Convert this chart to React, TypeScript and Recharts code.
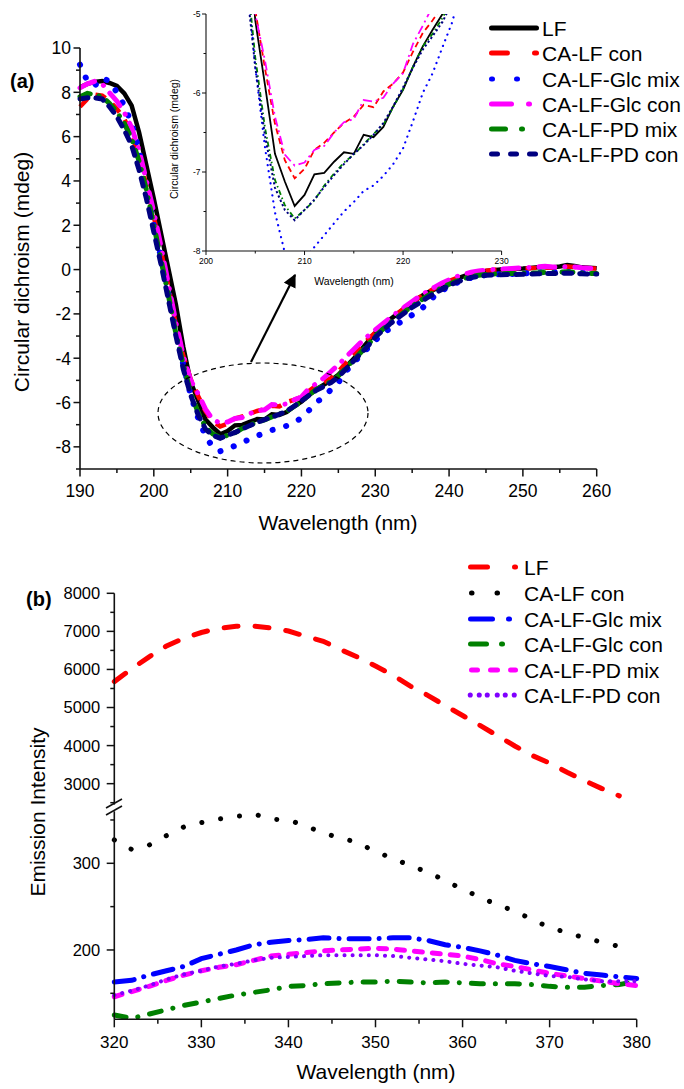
import React from 'react';
import { LineChart, Line, XAxis, YAxis } from 'recharts';

const FONT = '"Liberation Sans", Arial, Helvetica, sans-serif';
const AXIS = '#111';

// (a) circular dichroism, 190-260 nm
const cdWavelength = [
  190, 191, 192, 193, 194, 195, 196, 197, 198, 199, 200, 201, 202, 203, 204, 205, 206, 207,
  208, 209, 210, 211, 212, 213, 214, 215, 216, 217, 218, 219, 220, 221, 222, 223, 224, 225,
  226, 227, 228, 229, 230, 231, 232, 233, 234, 235, 236, 237, 238, 239, 240, 241, 242, 243,
  244, 245, 246, 247, 248, 249, 250, 251, 252, 253, 254, 255, 256, 257, 258, 259, 260,
];
const cdLF = [
  8.23, 8.38, 8.47, 8.51, 8.42, 8.29, 7.95, 7.4, 6.2, 4.7, 3.2, 1.6, 0.0, -1.6, -3.5, -5.08, -5.91, -6.77,
  -7.12, -7.43, -7.29, -7.03, -7.01, -6.87, -6.75, -6.77, -6.53, -6.56, -6.43, -6.17, -5.96, -5.67, -5.41, -5.2, -5.0, -4.75,
  -4.4, -4.05, -3.65, -3.25, -2.85, -2.55, -2.25, -2.0, -1.75, -1.5, -1.25, -1.05, -0.9, -0.75, -0.58, -0.42, -0.3, -0.2,
  -0.12, -0.06, -0.03, 0.0, 0.02, 0.04, 0.05, 0.07, 0.1, 0.12, 0.1, 0.14, 0.2, 0.16, 0.1, 0.08, 0.06,
];
const cdCaLfCon = [
  7.35, 7.7, 7.9, 7.85, 7.6, 7.25, 6.8, 6.1, 5.1, 3.8, 2.4, 0.8, -0.8, -2.5, -3.9, -4.95, -5.7, -6.39,
  -6.85, -7.08, -6.96, -6.72, -6.63, -6.5, -6.38, -6.3, -6.15, -6.18, -5.98, -5.88, -5.74, -5.48, -5.24, -5.08, -4.9, -4.6,
  -4.22, -3.85, -3.5, -3.15, -2.85, -2.55, -2.25, -1.98, -1.72, -1.48, -1.25, -1.05, -0.85, -0.7, -0.52, -0.38, -0.26, -0.17,
  -0.1, -0.05, -0.02, 0.0, 0.02, 0.03, 0.05, 0.06, 0.08, 0.1, 0.08, 0.1, 0.14, 0.12, 0.08, 0.06, 0.05,
];
const cdGlcMix = [
  9.25, 8.5, 8.3, 8.65, 8.5, 8.0, 7.4, 6.6, 5.4, 3.7, 2.0, 0.5, -1.1, -2.8, -4.3, -5.67, -6.7, -7.51,
  -8.02, -8.2, -8.1, -7.95, -7.8, -7.65, -7.5, -7.38, -7.24, -7.17, -7.05, -6.9, -6.7, -6.36, -6.0, -5.75, -5.42, -5.1,
  -4.6, -4.25, -3.85, -3.55, -3.2, -2.9, -2.65, -2.45, -2.27, -2.05, -1.85, -1.55, -1.2, -0.95, -0.77, -0.6, -0.47, -0.37,
  -0.3, -0.25, -0.22, -0.2, -0.2, -0.19, -0.17, -0.16, -0.14, -0.12, -0.13, -0.11, -0.1, -0.12, -0.14, -0.15, -0.15,
];
const cdGlcCon = [
  8.2, 8.38, 8.5, 8.38, 7.98, 7.6, 7.1, 6.4, 5.4, 4.0, 2.6, 1.0, -0.7, -2.4, -3.9, -5.0, -5.6, -6.3,
  -6.78, -6.92, -6.88, -6.72, -6.67, -6.5, -6.37, -6.33, -6.09, -6.11, -6.06, -5.88, -5.75, -5.38, -5.15, -4.9, -4.6, -4.3,
  -3.95, -3.63, -3.3, -3.0, -2.72, -2.45, -2.18, -1.92, -1.68, -1.44, -1.2, -1.0, -0.8, -0.62, -0.46, -0.32, -0.22, -0.12,
  -0.06, -0.02, 0.0, 0.02, 0.04, 0.06, 0.08, 0.1, 0.12, 0.15, 0.12, 0.1, 0.14, 0.12, 0.08, 0.06, 0.05,
];
const cdPdMix = [
  7.8, 7.95, 7.9, 7.8, 7.5, 7.1, 6.6, 5.9, 4.9, 3.6, 2.0, 0.4, -1.2, -2.9, -4.3, -5.55, -6.45, -7.1,
  -7.42, -7.59, -7.48, -7.36, -7.17, -7.02, -6.88, -6.78, -6.65, -6.52, -6.4, -6.18, -5.95, -5.67, -5.41, -5.25, -5.05, -4.8,
  -4.45, -4.1, -3.75, -3.4, -3.0, -2.7, -2.4, -2.15, -1.9, -1.65, -1.43, -1.2, -1.0, -0.82, -0.66, -0.52, -0.4, -0.32,
  -0.26, -0.22, -0.2, -0.19, -0.18, -0.18, -0.17, -0.16, -0.15, -0.13, -0.14, -0.12, -0.1, -0.12, -0.15, -0.17, -0.18,
];
const cdPdCon = [
  7.7, 7.75, 7.75, 7.7, 7.35, 6.9, 6.3, 5.6, 4.5, 3.2, 1.7, 0.2, -1.4, -3.0, -4.5, -5.67, -6.55, -7.2,
  -7.48, -7.61, -7.48, -7.35, -7.19, -7.04, -6.9, -6.77, -6.66, -6.53, -6.38, -6.17, -5.93, -5.68, -5.45, -5.28, -5.1, -4.85,
  -4.5, -4.15, -3.8, -3.45, -3.05, -2.75, -2.45, -2.2, -1.95, -1.7, -1.5, -1.28, -1.08, -0.9, -0.72, -0.57, -0.45, -0.36,
  -0.3, -0.26, -0.24, -0.23, -0.22, -0.22, -0.21, -0.2, -0.19, -0.18, -0.18, -0.17, -0.16, -0.17, -0.19, -0.2, -0.2,
];

const cdXTicks = [190, 195, 200, 205, 210, 215, 220, 225, 230, 235, 240, 245, 250, 255, 260];
const cdYTicks = [-9, -8, -7, -6, -5, -4, -3, -2, -1, 0, 1, 2, 3, 4, 5, 6, 7, 8, 9, 10];
const insetXTicks = [200, 205, 210, 215, 220, 225, 230];
const insetYTicks = [-8, -7.5, -7, -6.5, -6, -5.5, -5];

// (b) fluorescence emission, 320-380 nm
const flWavelength = [
  320, 322, 324, 326, 328, 330, 332, 334, 336, 338, 340, 342, 344, 346, 348, 350,
  352, 354, 356, 358, 360, 362, 364, 366, 368, 370, 372, 374, 376, 378, 380,
];
const flLF = [
  5680, 6020, 6330, 6620, 6820, 6970, 7080, 7135, 7140, 7090, 7010, 6870, 6740, 6520, 6320, 6090,
  5850, 5560, 5320, 5050, 4790, 4530, 4260, 3990, 3740, 3540, 3300, 3080, 2870, 2680, null,
];
const flCaLfCon = [
  327, 316, 321, 332, 342, 347, 351, 354, 357, 351, 350, 343, 335, 329, 324, 313,
  306, 297, 290, 280, 270, 261, 252, 245, 235, 226, 220, 214, 209, 204, null,
];
const flGlcMix = [
  163, 165, 171, 176, 181, 190, 195, 200, 206, 209, 211, 212, 214, 213, 213, 213,
  214, 214, 211, 206, 203, 199, 194, 188, 184, 181, 177, 173, 171, 169, 167,
];
const flGlcCon = [
  125, 121, 126, 131, 136, 140, 144, 148, 151, 154, 158, 159, 161, 162, 163, 163,
  164, 163, 162, 163, 162, 161, 161, 161, 160, 158, 157, 157, 159, 160, 164,
];
const flPdMix = [
  146, 152, 158, 165, 171, 176, 180, 183, 188, 193, 195, 197, 199, 200, 201, 202,
  201, 199, 197, 195, 193, 189, 184, 181, 177, 173, 170, 167, 164, 161, 159,
];
const flPdCon = [
  148, 153, 159, 166, 172, 176, 181, 184, 188, 191, 192, 193, 194, 194, 194, 194,
  193, 191, 189, 187, 184, 182, 180, 176, 173, 170, 169, 166, 164, 164, 164,
];

const flXTicks = [320, 325, 330, 335, 340, 345, 350, 355, 360, 365, 370, 375, 380];
const flUpperTicks = [2500, 3000, 3500, 4000, 4500, 5000, 5500, 6000, 6500, 7000, 7500, 8000];
const flLowerTicks = [150, 200, 250, 300, 350];

const seriesNames = ['LF', 'CA-LF con', 'CA-LF-Glc mix', 'CA-LF-Glc con', 'CA-LF-PD mix', 'CA-LF-PD con'];

const cdData = cdWavelength.map((w, i) => ({
  w,
  lf: cdLF[i],
  con: cdCaLfCon[i],
  glcMix: cdGlcMix[i],
  glcCon: cdGlcCon[i],
  pdMix: cdPdMix[i],
  pdCon: cdPdCon[i],
}));

const flData = flWavelength.map((w, i) => ({
  w,
  lf: flLF[i],
  con: flCaLfCon[i],
  glcMix: flGlcMix[i],
  glcCon: flGlcCon[i],
  pdMix: flPdMix[i],
  pdCon: flPdCon[i],
}));

interface TickProps {
  x?: number;
  y?: number;
  payload?: { value: number };
  mstep: number;
  tbig: number;
  tsmall: number;
  tgap: number;
  tfs: number;
  tside: 'bottom' | 'left';
  tw?: number;
}

function AxisTick({ x = 0, y = 0, payload, mstep, tbig, tsmall, tgap, tfs, tside, tw = 1.5 }: TickProps) {
  const v = payload ? payload.value : 0;
  const r = v / mstep;
  const major = Math.abs(r - Math.round(r)) < 1e-6;
  const len = major ? tbig : tsmall;
  if (tside === 'bottom') {
    return (
      <g>
        <line x1={x} y1={y} x2={x} y2={y + len} stroke={AXIS} strokeWidth={tw} />
        {major && (
          <text x={x} y={y + len + tgap} textAnchor="middle" fontSize={tfs} fontFamily={FONT} fill="#000">
            {v}
          </text>
        )}
      </g>
    );
  }
  return (
    <g>
      <line x1={x} y1={y} x2={x - len} y2={y} stroke={AXIS} strokeWidth={tw} />
      {major && (
        <text x={x - len - tgap} y={y} dy="0.36em" textAnchor="end" fontSize={tfs} fontFamily={FONT} fill="#000">
          {v}
        </text>
      )}
    </g>
  );
}

function seg(x1: number, x2: number, y: number, color: string, w: number, key: string) {
  if (x2 - x1 <= w) {
    return <circle key={key} cx={(x1 + x2) / 2} cy={y} r={w / 2 + 0.3} fill={color} />;
  }
  return (
    <line key={key} x1={x1 + w / 2} x2={x2 - w / 2} y1={y} y2={y} stroke={color} strokeWidth={w} strokeLinecap="round" />
  );
}

const legendA = [
  { color: '#000000', segs: [[489, 539]] },
  { color: '#ff0000', segs: [[489, 510], [532, 539]] },
  { color: '#0000ff', segs: [[489, 495], [514, 520]] },
  { color: '#ff00ff', segs: [[489, 514], [526, 532]] },
  { color: '#008000', segs: [[489, 508], [519, 525]] },
  { color: '#000080', segs: [[489, 500], [508, 519], [527, 538]] },
];
const legendAY = [28, 53, 79, 104, 129, 154];

const legendB = [
  { color: '#ff0000', segs: [[468, 490], [512, 518]] },
  { color: '#000000', segs: [[469, 474.5], [494.5, 500]] },
  { color: '#0000ff', segs: [[468, 495], [506, 512]] },
  { color: '#008000', segs: [[468, 489], [499, 505]] },
  { color: '#ff00ff', segs: [[469, 480], [488, 500], [508, 518]] },
  { color: '#8000ff', segs: [[468, 472.5], [477, 481.5], [485, 489.5], [495, 499.5], [503, 507.5], [512, 516.5]] },
];
const legendBY = [567, 593, 619, 644, 670, 695];

function Overlay() {
  return (
    <svg
      width={684}
      height={1089}
      style={{ position: 'absolute', left: 0, top: 0, pointerEvents: 'none' }}
      fontFamily={FONT}
    >
      <defs>
        <marker id="arrowHead" viewBox="0 0 10 10" refX="9" refY="5" markerWidth="6" markerHeight="6" orient="auto">
          <path d="M0,0 L10,5 L0,10 z" fill="#000" />
        </marker>
      </defs>

      {/* panel (a) */}
      <text x={10} y={88} fontSize={20} fontWeight="bold">(a)</text>
      <text x={29} y={272} fontSize={21} textAnchor="middle" transform="rotate(-90 29 272)">
        Circular dichroism (mdeg)
      </text>
      <text x={338} y={530} fontSize={21} textAnchor="middle">Wavelength (nm)</text>
      <text x={178} y={139} fontSize={10.5} textAnchor="middle" transform="rotate(-90 178 139)">
        Circular dichroism (mdeg)
      </text>
      <text x={354} y={285} fontSize={10.5} textAnchor="middle">Wavelength (nm)</text>
      <ellipse cx={263} cy={413} rx={105} ry={50} fill="none" stroke="#000" strokeWidth={1.2} strokeDasharray="5 4" />
      <line x1={251} y1={362} x2={295} y2={275} stroke="#000" strokeWidth={2.2} markerEnd="url(#arrowHead)" />

      {legendA.map((row, i) => (
        <g key={`la${i}`}>
          {row.segs.map((s, j) => seg(s[0], s[1], legendAY[i], row.color, 5, `la${i}-${j}`))}
          <text x={542} y={legendAY[i] + 7.5} fontSize={21}>{seriesNames[i]}</text>
        </g>
      ))}

      {/* panel (b) */}
      <text x={26} y={606} fontSize={20} fontWeight="bold">(b)</text>
      <text x={45} y={812} fontSize={21} textAnchor="middle" transform="rotate(-90 45 812)">
        Emission Intensity
      </text>
      <text x={376} y={1079} fontSize={21} textAnchor="middle">Wavelength (nm)</text>
      <line x1={106} y1={808} x2={122} y2={799} stroke={AXIS} strokeWidth={1.6} />
      <line x1={106} y1={815} x2={122} y2={806} stroke={AXIS} strokeWidth={1.6} />

      {legendB.map((row, i) => (
        <g key={`lb${i}`}>
          {row.segs.map((s, j) => seg(s[0], s[1], legendBY[i], row.color, i === 5 ? 4.5 : 5, `lb${i}-${j}`))}
          <text x={524} y={legendBY[i] + 7.5} fontSize={21}>{seriesNames[i]}</text>
        </g>
      ))}
    </svg>
  );
}

function CdMain() {
  return (
    <LineChart width={684} height={540} data={cdData} margin={{ top: 48, right: 87.3, left: 0, bottom: 0 }}>
      <XAxis
        dataKey="w"
        type="number"
        domain={[190, 260]}
        ticks={cdXTicks}
        interval={0}
        height={71}
        tickSize={0}
        tickMargin={0}
        tickLine={false}
        axisLine={{ stroke: AXIS, strokeWidth: 1.6 }}
        tick={<AxisTick mstep={10} tbig={7.5} tsmall={4} tgap={20} tfs={17.5} tside="bottom" />}
      />
      <YAxis
        type="number"
        domain={[-9, 10]}
        ticks={cdYTicks}
        interval={0}
        width={80}
        tickSize={0}
        tickMargin={0}
        tickLine={false}
        axisLine={{ stroke: AXIS, strokeWidth: 1.6 }}
        tick={<AxisTick mstep={2} tbig={6.5} tsmall={4} tgap={2.5} tfs={17.5} tside="left" />}
      />
      <Line type="linear" dataKey="lf" stroke="#000000" strokeWidth={4.5} dot={false} isAnimationActive={false} />
      <Line type="linear" dataKey="con" stroke="#ff0000" strokeWidth={4.5} strokeDasharray="11 9" dot={false} isAnimationActive={false} />
      <Line type="linear" dataKey="glcMix" stroke="#0000ff" strokeWidth={6} strokeDasharray="0.1 14" strokeLinecap="round" dot={false} isAnimationActive={false} />
      <Line type="linear" dataKey="glcCon" stroke="#ff00ff" strokeWidth={5} strokeDasharray="16 10 0.1 10" strokeLinecap="round" dot={false} isAnimationActive={false} />
      <Line type="linear" dataKey="pdMix" stroke="#008000" strokeWidth={5} strokeDasharray="11 9 0.1 9" strokeLinecap="round" dot={false} isAnimationActive={false} />
      <Line type="linear" dataKey="pdCon" stroke="#000080" strokeWidth={5} strokeDasharray="8 8" strokeLinecap="round" dot={false} isAnimationActive={false} />
    </LineChart>
  );
}

function CdInset() {
  return (
    <LineChart width={684} height={300} data={cdData} margin={{ top: 14, right: 182.4, left: 0, bottom: 0 }}>
      <XAxis
        dataKey="w"
        type="number"
        domain={[200, 230]}
        allowDataOverflow
        ticks={insetXTicks}
        interval={0}
        height={49}
        tickSize={0}
        tickMargin={0}
        tickLine={false}
        axisLine={{ stroke: AXIS, strokeWidth: 1.1 }}
        tick={<AxisTick mstep={10} tbig={4} tsmall={2.5} tgap={9} tfs={8.5} tside="bottom" tw={1} />}
      />
      <YAxis
        type="number"
        domain={[-8, -5]}
        allowDataOverflow
        ticks={insetYTicks}
        interval={0}
        width={206}
        tickSize={0}
        tickMargin={0}
        tickLine={false}
        axisLine={{ stroke: AXIS, strokeWidth: 1.1 }}
        tick={<AxisTick mstep={1} tbig={4} tsmall={2.5} tgap={1.5} tfs={8.5} tside="left" tw={1} />}
      />
      <Line type="linear" dataKey="lf" stroke="#000000" strokeWidth={1.8} dot={false} isAnimationActive={false} />
      <Line type="linear" dataKey="con" stroke="#ff0000" strokeWidth={1.8} strokeDasharray="6 4" dot={false} isAnimationActive={false} />
      <Line type="linear" dataKey="glcMix" stroke="#0000ff" strokeWidth={2.2} strokeDasharray="0.1 6" strokeLinecap="round" dot={false} isAnimationActive={false} />
      <Line type="linear" dataKey="glcCon" stroke="#ff00ff" strokeWidth={1.8} strokeDasharray="9 4 2 4" dot={false} isAnimationActive={false} />
      <Line type="linear" dataKey="pdMix" stroke="#008000" strokeWidth={1.8} strokeDasharray="5 3 1.5 3" dot={false} isAnimationActive={false} />
      <Line type="linear" dataKey="pdCon" stroke="#000080" strokeWidth={2} strokeDasharray="2.2 2.5" dot={false} isAnimationActive={false} />
    </LineChart>
  );
}

function FlUpper() {
  return (
    <LineChart width={684} height={260} data={flData} margin={{ top: 33.3, right: 47.3, left: 0, bottom: 15.4 }}>
      <XAxis dataKey="w" type="number" domain={[320, 380]} hide />
      <YAxis
        type="number"
        domain={[2450, 8000]}
        allowDataOverflow
        ticks={flUpperTicks}
        interval={0}
        width={114.3}
        tickSize={0}
        tickMargin={0}
        tickLine={false}
        axisLine={{ stroke: AXIS, strokeWidth: 1.6 }}
        tick={<AxisTick mstep={1000} tbig={7.6} tsmall={4} tgap={6.5} tfs={16.5} tside="left" />}
      />
      <Line type="linear" dataKey="lf" stroke="#ff0000" strokeWidth={5} strokeDasharray="14 17" strokeLinecap="round" dot={false} isAnimationActive={false} />
    </LineChart>
  );
}

function FlLower() {
  return (
    <LineChart width={684} height={289} data={flData} margin={{ top: 11.3, right: 47.3, left: 0, bottom: 0 }}>
      <XAxis
        dataKey="w"
        type="number"
        domain={[320, 380]}
        ticks={flXTicks}
        interval={0}
        height={69.7}
        tickSize={0}
        tickMargin={0}
        tickLine={false}
        axisLine={{ stroke: AXIS, strokeWidth: 1.6 }}
        tick={<AxisTick mstep={10} tbig={8} tsmall={4.5} tgap={21} tfs={17} tside="bottom" />}
      />
      <YAxis
        type="number"
        domain={[120, 360]}
        allowDataOverflow
        ticks={flLowerTicks}
        interval={0}
        width={114.3}
        tickSize={0}
        tickMargin={0}
        tickLine={false}
        axisLine={{ stroke: AXIS, strokeWidth: 1.6 }}
        tick={<AxisTick mstep={100} tbig={7.6} tsmall={4} tgap={6.5} tfs={16.5} tside="left" />}
      />
      <Line type="linear" dataKey="con" stroke="#000000" strokeWidth={5} strokeDasharray="0.1 19" strokeLinecap="round" dot={false} isAnimationActive={false} />
      <Line type="linear" dataKey="glcMix" stroke="#0000ff" strokeWidth={5} strokeDasharray="20 10 0.1 10" strokeLinecap="round" dot={false} isAnimationActive={false} />
      <Line type="linear" dataKey="glcCon" stroke="#008000" strokeWidth={5} strokeDasharray="12 12 0.1 12" strokeLinecap="round" dot={false} isAnimationActive={false} />
      <Line type="linear" dataKey="pdMix" stroke="#ff00ff" strokeWidth={5} strokeDasharray="8 10" strokeLinecap="round" dot={false} isAnimationActive={false} />
      <Line type="linear" dataKey="pdCon" stroke="#8000ff" strokeWidth={4} strokeDasharray="0.1 8" strokeLinecap="round" dot={false} isAnimationActive={false} />
    </LineChart>
  );
}

export default function App() {
  return (
    <div
      style={{
        position: 'absolute',
        left: 0,
        top: 0,
        width: 684,
        height: 1089,
        background: '#fff',
        overflow: 'hidden',
        fontFamily: FONT,
      }}
    >
      <div style={{ position: 'absolute', left: 0, top: 0 }}>
        <CdMain />
      </div>
      <div style={{ position: 'absolute', left: 0, top: 0 }}>
        <CdInset />
      </div>
      <div style={{ position: 'absolute', left: 0, top: 560 }}>
        <FlUpper />
      </div>
      <div style={{ position: 'absolute', left: 0, top: 800 }}>
        <FlLower />
      </div>
      <Overlay />
    </div>
  );
}
